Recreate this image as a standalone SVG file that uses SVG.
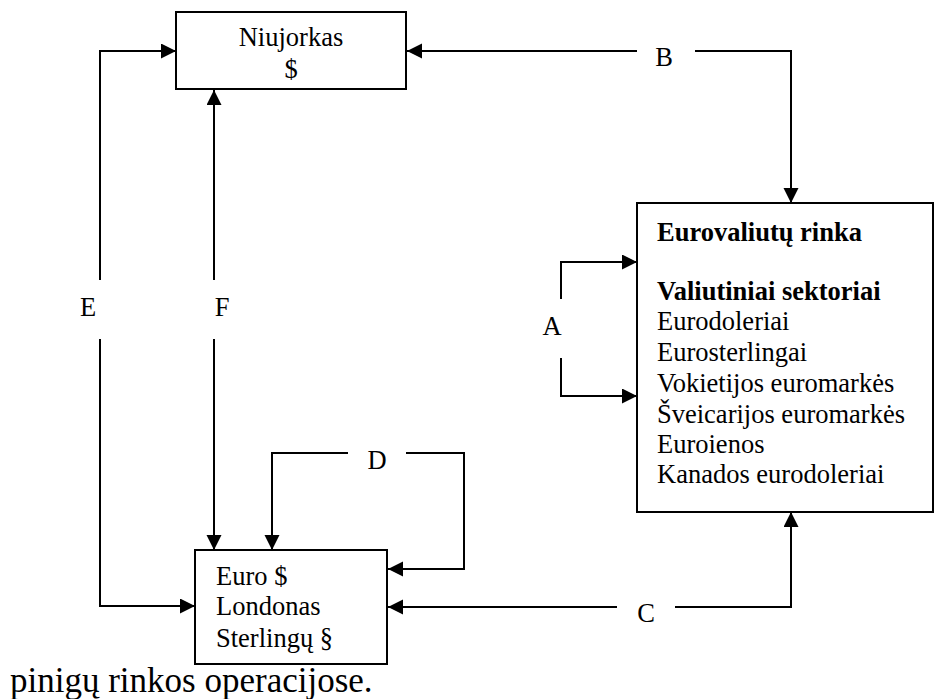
<svg xmlns="http://www.w3.org/2000/svg" width="935" height="699" viewBox="0 0 935 699" font-family="Liberation Serif, DejaVu Serif, serif">
<style>
.box{fill:#fff;stroke:#000;stroke-width:2}
.c{fill:none;stroke:#000;stroke-width:2;marker-end:url(#ah)}
text{font-family:'Liberation Serif','DejaVu Serif',serif;font-size:26.5px;fill:#000}
.b{font-weight:bold}
.m{text-anchor:middle}
</style>
<defs>
<marker id="ah" markerUnits="userSpaceOnUse" markerWidth="16" markerHeight="16" refX="15" refY="7.5" orient="auto">
<path d="M0,0 L15,7.5 L0,15 z" fill="#000"/>
</marker>
</defs>
<g id="connectors">
<path class="c" d="M100,280 V51 H176"/>
<path class="c" d="M100,339 V606 H195"/>
<path class="c" d="M214,280 V90"/>
<path class="c" d="M214,339 V550"/>
<path class="c" d="M637,51 H407"/>
<path class="c" d="M695,51 H791 V203"/>
<path class="c" d="M561,299 V262 H637"/>
<path class="c" d="M561,358 V396 H637"/>
<path class="c" d="M348,453 H272 V550"/>
<path class="c" d="M406,453 H464 V569 H388"/>
<path class="c" d="M617,607 H388"/>
<path class="c" d="M675,607 H791 V512"/>
<text class="m" x="88" y="316">E</text>
<text class="m" x="222" y="316">F</text>
<text class="m" x="552" y="335">A</text>
<text class="m" x="664" y="66">B</text>
<text class="m" x="646" y="622">C</text>
<text class="m" x="377" y="469">D</text>
</g>
<g id="niujorkas">
<rect class="box" x="176" y="12" width="230" height="77"/>
<text class="m" x="291" y="46">Niujorkas</text>
<text class="m" x="291" y="78">$</text>
</g>
<g id="eurorinka">
<rect class="box" x="637" y="203" width="296" height="309"/>
<text class="b" x="657" y="241">Eurovaliutų rinka</text>
<text class="b" x="657" y="300">Valiutiniai sektoriai</text>
<text x="657" y="330">Eurodoleriai</text>
<text x="657" y="361">Eurosterlingai</text>
<text x="657" y="392">Vokietijos euromarkės</text>
<text x="657" y="423">Šveicarijos euromarkės</text>
<text x="657" y="453">Euroienos</text>
<text x="657" y="483">Kanados eurodoleriai</text>
</g>
<g id="londonas">
<rect class="box" x="195" y="550" width="192" height="114"/>
<text x="216" y="585">Euro $</text>
<text x="216" y="615">Londonas</text>
<text x="216" y="647">Sterlingų §</text>
</g>
<text x="10" y="692" style="font-size:35px">pinigų rinkos operacijose.</text>
</svg>
